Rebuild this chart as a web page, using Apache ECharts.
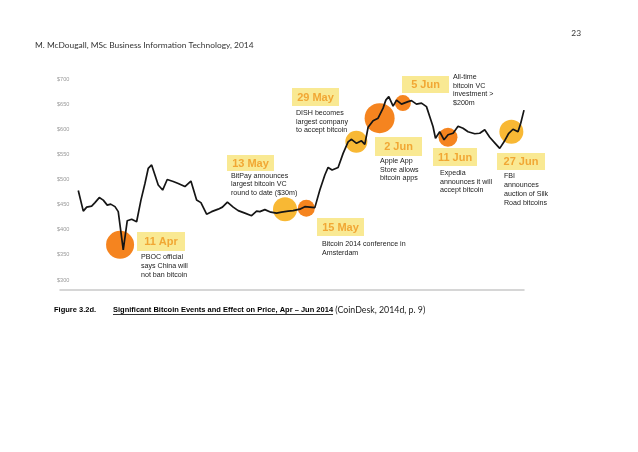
<!DOCTYPE html>
<html>
<head>
<meta charset="utf-8">
<script src="https://cdn.jsdelivr.net/npm/echarts@6/dist/echarts.min.js"></script>
<style>
html,body{margin:0;padding:0;background:#fff;}
#chart{width:638px;height:452px;}
</style>
</head>
<body>
<div id="chart"></div>
<script>
// ---- data ----
// day index counted from 1 Apr 2014
const days = [0.06,1.07,1.76,2.76,3.43,4.30,5.10,5.91,6.60,7.47,
  8.13,9.14,9.95,10.84,11.84,12.71,13.52,14.18,14.87,15.54,
  16.20,17.09,18.02,19.23,20.24,21.59,22.80,23.95,24.82,25.97,
  26.98,28.31,29.16,30.17,31.34,32.35,33.70,35.05,36.06,36.72,
  37.73,38.94,40.09,41.10,42.43,43.44,44.79,45.80,47.82,48.83,
  49.84,50.50,51.31,52.52,53.53,54.54,55.23,56.23,57.24,57.91,
  58.58,59.58,60.59,61.60,62.15,62.75,63.62,64.31,65.32,66.65,
  67.33,68.34,69.35,70.36,71.03,71.69,72.18,73.04,73.91,74.72,
  75.73,76.74,77.74,78.75,80.11,81.11,82.12,83.13,84.14,85.15,
  86.02,86.97,87.83,88.84,89.39,90.05];
const prices = [478,437,445,447,454,464,459,449,451,446,
  436,360,418,421,416,459,492,522,529,509,
  489,479,500,496,492,486,497,459,454,431,
  436,441,445,455,445,438,433,428,437,436,
  440,435,433,435,437,438,441,446,444,479,
  509,524,519,524,552,575,580,572,577,570,
  604,617,622,642,658,665,646,658,650,655,
  657,650,652,645,625,605,582,595,579,589,
  592,606,602,595,591,592,599,584,573,562,
  575,592,600,595,612,638];
const yTicks = [300,350,400,450,500,550,600,650,700];

const eventLabels = ['11 Apr','13 May','15 May','29 May','2 Jun','5 Jun','11 Jun','27 Jun'];
const eventNotes = [
  'PBOC official\nsays China will\nnot ban bitcoin',
  'BitPay announces\nlargest bitcoin VC\nround to date ($30m)',
  'Bitcoin 2014 conference in\nAmsterdam',
  'DISH becomes\nlargest company\nto accept bitcoin',
  'Apple App\nStore allows\nbitcoin apps',
  'All-time\nbitcoin VC\ninvestment >\n$200m',
  'Expedia\nannounces it will\naccept bitcoin',
  'FBI\nannounces\nauction of Silk\nRoad bitcoins'
];
const eventDays = [8.5, 41.8, 46.1, 56.2, 60.9, 65.6, 74.7, 87.5];
const eventPrices = [370, 441, 443, 575, 622, 652, 584, 595];

// ---- styles / layout ----
const ORANGE = '#F5841F', GOLD = '#F8B834';
const circleRadius = [14, 12, 8.5, 11, 15, 8, 9.5, 12];
const circleColor = [ORANGE, GOLD, ORANGE, GOLD, ORANGE, ORANGE, ORANGE, GOLD];
// [boxX, boxY, boxW, boxH, noteX, noteY, noteLineHeight]
const annLayout = [
  [137, 232, 48, 19, 141, 252.5, 9],
  [227, 155, 47, 16, 231, 172, 8.3],
  [317, 218, 47, 18, 322, 240, 8.4],
  [292, 88, 47, 18, 296, 109, 8.6],
  [375, 137, 47, 19, 380, 157, 8.6],
  [402, 76, 47, 17, 453, 72.5, 8.7],
  [433, 148, 44, 18, 440, 169, 8.4],
  [497, 153, 48, 17, 504, 172, 8.9]
];

const graphics = [];
eventLabels.forEach((lab, i) => {
  const L = annLayout[i];
  graphics.push({type:'rect', shape:{x:L[0], y:L[1], width:L[2], height:L[3]},
    style:{fill:'#F9E993'}, z:10});
  graphics.push({type:'text', x:L[0]+L[2]/2, y:L[1]+L[3]/2+0.5, z:11,
    style:{text:lab, fill:'#F1A734', fontFamily:'Liberation Sans', fontWeight:'bold',
      fontSize:11, align:'center', verticalAlign:'middle'}});
  graphics.push({type:'text', x:L[4], y:L[5], z:11,
    style:{text:eventNotes[i], fill:'#222', fontFamily:'Liberation Sans',
      fontSize:7.1, lineHeight:L[6], align:'left', verticalAlign:'top'}});
});

// header + caption
graphics.push({type:'text', x:35, y:45, style:{text:'M. McDougall, MSc Business Information Technology, 2014',
  fill:'#333', fontFamily:'Lato', fontSize:8.4, verticalAlign:'middle'}});
graphics.push({type:'text', x:581, y:33, style:{text:'23', fill:'#333', fontFamily:'Lato', fontSize:8.4,
  align:'right', verticalAlign:'middle'}});

const ctx = document.createElement('canvas').getContext('2d');
function tw(t, font){ ctx.font = font; return ctx.measureText(t).width; }
const capY = 310;
const f1 = 'bold 7.5px "Liberation Sans"';
const f3 = '8.8px Lato';
const t1 = 'Figure 3.2d.', t2 = 'Significant Bitcoin Events and Effect on Price, Apr \u2013 Jun 2014', t3 = ' (CoinDesk, 2014d, p. 9)';
const x1 = 54, x2 = 113;
const w2 = tw(t2, f1);
graphics.push({type:'text', x:x1, y:capY, style:{text:t1, fill:'#000', font:f1, verticalAlign:'middle'}});
graphics.push({type:'text', x:x2, y:capY, style:{text:t2, fill:'#000', font:f1, verticalAlign:'middle'}});
graphics.push({type:'line', shape:{x1:x2, y1:capY+4.5, x2:x2+w2, y2:capY+4.5}, style:{stroke:'#000', lineWidth:0.8}});
graphics.push({type:'text', x:x2+w2, y:capY, style:{text:t3, fill:'#222', font:f3, verticalAlign:'middle'}});

const chart = echarts.init(document.getElementById('chart'), null, {renderer:'canvas'});
chart.setOption({
  animation:false,
  backgroundColor:'#fff',
  grid:{left:60, right:114, top:79, bottom:172, containLabel:false},
  xAxis:{type:'value', min:-3.63, max:90.05, offset:10,
    axisLine:{show:true, lineStyle:{color:'#c9c9c9', width:1.5}},
    axisTick:{show:false}, axisLabel:{show:false}, splitLine:{show:false}},
  yAxis:{type:'value', min:yTicks[0], max:yTicks[yTicks.length-1], interval:50,
    axisLine:{show:false}, axisTick:{show:false}, splitLine:{show:false},
    axisLabel:{formatter:'${value}', color:'#999', fontSize:5.6, fontFamily:'Liberation Sans',
      align:'left', margin:3}},
  series:[
    {type:'scatter', z:2, silent:true,
      data: eventDays.map((d,i)=>({value:[d, eventPrices[i]], symbolSize:circleRadius[i]*2,
        itemStyle:{color:circleColor[i], opacity:1}}))},
    {type:'line', z:3, silent:true, showSymbol:false, symbol:'none',
      data: days.map((d,i)=>[d, prices[i]]),
      lineStyle:{color:'#151515', width:1.7}}
  ],
  graphic: graphics
});
</script>
</body>
</html>
